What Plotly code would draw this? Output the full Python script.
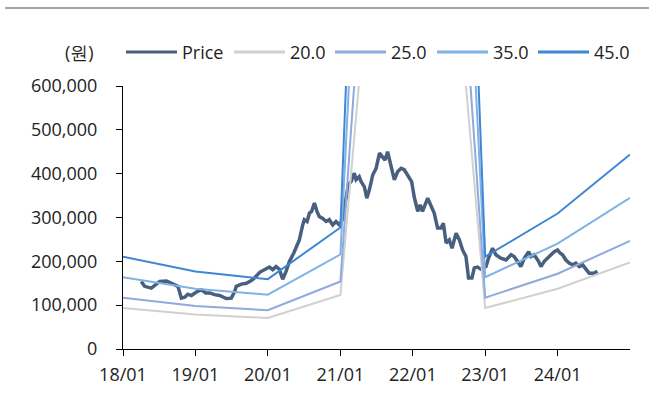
import plotly.graph_objects as go

# ---------------- data ----------------
price_dates = [
    "2018-04-03", "2018-04-20", "2018-05-24", "2018-06-10", "2018-07-05", "2018-08-08",
    "2018-09-02", "2018-10-05", "2018-10-22", "2018-11-08", "2018-11-24", "2018-12-12",
    "2019-01-06", "2019-01-31", "2019-02-22", "2019-03-14", "2019-04-08", "2019-05-03",
    "2019-06-06", "2019-07-01", "2019-07-18", "2019-07-26", "2019-08-21", "2019-09-15",
    "2019-10-10", "2019-10-26", "2019-11-21", "2019-12-16", "2020-01-09", "2020-01-26",
    "2020-02-12", "2020-02-28", "2020-03-16", "2020-04-02", "2020-04-19", "2020-05-11",
    "2020-05-23", "2020-06-08", "2020-06-25", "2020-07-03", "2020-07-17", "2020-07-29",
    "2020-08-09", "2020-08-23", "2020-09-05", "2020-09-17", "2020-10-04", "2020-10-21",
    "2020-11-06", "2020-11-23", "2020-12-10", "2020-12-27", "2021-01-11", "2021-01-26",
    "2021-02-10", "2021-02-24", "2021-03-12", "2021-03-21", "2021-04-06", "2021-04-15",
    "2021-05-02", "2021-05-14", "2021-05-27", "2021-06-13", "2021-06-30", "2021-07-17",
    "2021-08-02", "2021-08-14", "2021-08-27", "2021-09-05", "2021-09-16", "2021-09-30",
    "2021-10-17", "2021-11-03", "2021-11-19", "2021-12-06", "2021-12-26", "2022-01-09",
    "2022-01-26", "2022-02-07", "2022-02-19", "2022-03-17", "2022-04-03", "2022-04-19",
    "2022-05-06", "2022-05-23", "2022-06-04", "2022-06-18", "2022-07-04", "2022-07-18",
    "2022-08-07", "2022-08-24", "2022-09-09", "2022-09-26", "2022-10-09", "2022-10-26",
    "2022-11-07", "2022-11-23", "2022-12-11", "2023-01-05", "2023-01-16", "2023-02-07",
    "2023-02-24", "2023-03-21", "2023-04-16", "2023-05-11", "2023-05-27", "2023-06-13",
    "2023-06-30", "2023-07-17", "2023-08-08", "2023-08-20", "2023-09-05", "2023-09-27",
    "2023-10-09", "2023-10-26", "2023-11-20", "2023-12-15", "2024-01-01", "2024-01-13",
    "2024-01-26", "2024-02-12", "2024-02-28", "2024-03-16", "2024-04-02", "2024-04-19",
    "2024-05-06", "2024-05-23", "2024-06-08", "2024-07-03", "2024-07-20",
]
price_values = [
    154000, 143000, 139000, 146000, 154000, 155000,
    150000, 143000, 116000, 118000, 125000, 122000,
    130000, 135000, 128000, 128000, 124000, 122000,
    115000, 116000, 131000, 143000, 148000, 150000,
    156000, 162000, 175000, 181000, 187000, 181000,
    188000, 182000, 159000, 177000, 200000, 219000,
    230000, 249000, 283000, 295000, 291000, 310000,
    314000, 333000, 314000, 302000, 298000, 291000,
    295000, 283000, 291000, 283000, 295000, 340000,
    375000, 382000, 401000, 386000, 393000, 382000,
    370000, 344000, 363000, 397000, 412000, 447000,
    439000, 431000, 450000, 431000, 409000, 386000,
    405000, 412000, 409000, 397000, 382000, 345000,
    314000, 329000, 314000, 344000, 325000, 310000,
    276000, 276000, 287000, 242000, 249000, 230000,
    264000, 249000, 226000, 211000, 162000, 162000,
    185000, 187000, 182000, 188000, 205000, 230000,
    215000, 207000, 203000, 215000, 211000, 200000,
    188000, 207000, 222000, 211000, 215000, 200000,
    188000, 200000, 211000, 222000, 226000, 219000,
    215000, 203000, 196000, 192000, 196000, 188000,
    192000, 181000, 173000, 173000, 177000,
]

band_dates = ["2018-01-01", "2019-01-01", "2020-01-01", "2021-01-01",
              "2022-01-01", "2023-01-01", "2024-01-01", "2024-12-31"]
band_eps = [4680, 3930, 3540, 6160, 100000, 4680, 6870, 9860]
band_multiples = [20.0, 25.0, 35.0, 45.0]

tick_dates = ["2018-01-01", "2019-01-01", "2020-01-01", "2021-01-01",
              "2022-01-01", "2023-01-01", "2024-01-01"]
tick_labels = ["18/01", "19/01", "20/01", "21/01", "22/01", "23/01", "24/01"]

series_names = ["Price", "20.0", "25.0", "35.0", "45.0"]
series_colors = ["#485F7F", "#D0D0D0", "#8FAADC", "#7FB2E5", "#3F87D3"]
series_widths = [3.5, 2, 2, 2, 2]

FONT = "Open Sans"
FS = 18

# ---------------- figure ----------------
fig = go.Figure()
fig.add_trace(go.Scatter(x=price_dates, y=price_values, mode="lines", name=series_names[0],
                         line=dict(color=series_colors[0], width=series_widths[0]),
                         showlegend=False))
for i, m in enumerate(band_multiples):
    fig.add_trace(go.Scatter(x=band_dates, y=[m * e for e in band_eps], mode="lines",
                             name=series_names[i + 1],
                             line=dict(color=series_colors[i + 1], width=series_widths[i + 1]),
                             showlegend=False))

W, H = 649, 396
L, R, T, B = 123, 19, 86, 47
pw, ph = W - L - R, H - T - B

def px_x(px):
    return (px - L) / pw

def px_y(py):
    return (H - B - py) / ph

shapes = []
annotations = []
# top decorative rule
shapes.append(dict(type="line", xref="paper", yref="paper",
                   x0=px_x(5), x1=px_x(649), y0=px_y(8), y1=px_y(8),
                   line=dict(color="#A6A6A6", width=2)))
# unit label
annotations.append(dict(text="(원)", xref="paper", yref="paper", x=px_x(79), y=px_y(52),
                        xanchor="center", yanchor="middle", showarrow=False,
                        font=dict(family=FONT, size=FS, color="#222")))
# custom legend
leg_x = [126, 234, 335, 437, 538]
leg_len = 51
for i, name in enumerate(series_names):
    x0 = leg_x[i]
    shapes.append(dict(type="line", xref="paper", yref="paper",
                       x0=px_x(x0), x1=px_x(x0 + leg_len), y0=px_y(52), y1=px_y(52),
                       line=dict(color=series_colors[i], width=3)))
    annotations.append(dict(text=name, xref="paper", yref="paper", x=px_x(x0 + leg_len + 3),
                            y=px_y(52), xanchor="left", yanchor="middle", showarrow=False,
                            font=dict(family=FONT, size=FS, color="#222")))

fig.update_layout(
    width=W, height=H,
    margin=dict(l=L, r=R, t=T, b=B, autoexpand=False),
    paper_bgcolor="white", plot_bgcolor="white",
    font=dict(family=FONT, size=FS, color="#222"),
    shapes=shapes, annotations=annotations,
    showlegend=False,
    xaxis=dict(type="date", range=["2018-01-01", "2024-12-31"],
               tickvals=tick_dates, ticktext=tick_labels, automargin=False,
               showgrid=False, zeroline=False, showline=True, linecolor="#000", linewidth=1,
               ticks="outside", ticklen=6, tickcolor="#000", tickwidth=1,
               ticklabelstandoff=3,
               tickfont=dict(family=FONT, size=FS, color="#222")),
    yaxis=dict(range=[0, 600000], dtick=100000, tickformat=",", automargin=False,
               showgrid=False, zeroline=False, showline=True, linecolor="#000", linewidth=1,
               ticks="outside", ticklen=6, tickcolor="#000", tickwidth=1,
               ticklabelstandoff=15,
               tickfont=dict(family=FONT, size=FS, color="#222")),
)

fig.write_html("out.html")
